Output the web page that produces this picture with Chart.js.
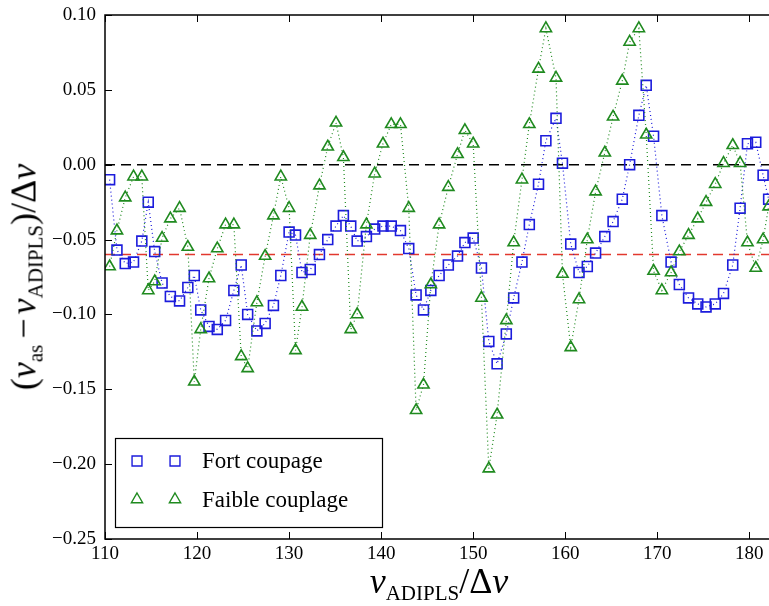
<!DOCTYPE html>
<html>
<head>
<meta charset="utf-8">
<script src="https://cdn.jsdelivr.net/npm/chart.js@4.4.0/dist/chart.umd.min.js"></script>
<style>
  body { margin: 0; background: #fff; }
  #wrap { position: relative; width: 769px; height: 606px; overflow: hidden; }
  .axis-title { position: absolute; font-family: "Liberation Serif", serif; font-size: 36px; color: #000; white-space: nowrap; line-height: 1; }
  .axis-title i { font-style: italic; }
  .axis-title sub { font-size: 21px; vertical-align: -7px; }
  .axis-title .op { margin: 0 4px 0 6px; }
  #ytitle { left: 26px; top: 277px; transform: translate(-50%, -50%) rotate(-90deg); }
  #xtitle { left: 439px; top: 583px; transform: translate(-50%, -50%); }
</style>
</head>
<body>
<div id="wrap">
  <canvas id="chart" width="769" height="606"></canvas>
  <div class="axis-title" id="ytitle">(<i>ν</i><sub>as</sub><span class="op">−</span><i>ν</i><sub>ADIPLS</sub>)/Δ<i>ν</i></div>
  <div class="axis-title" id="xtitle"><i>ν</i><sub>ADIPLS</sub>/Δ<i>ν</i></div>
</div>
<script>
// --- DATA ---
const xs = [110.5, 111.3, 112.2, 113.1, 114.0, 114.7, 115.4, 116.2, 117.1, 118.1,
  119.0, 119.7, 120.4, 121.3, 122.2, 123.1, 124.0, 124.8, 125.5, 126.5,
  127.4, 128.3, 129.1, 130.0, 130.7, 131.4, 132.3, 133.3, 134.2, 135.1,
  135.9, 136.7, 137.4, 138.4, 139.3, 140.2, 141.1, 142.1, 143.0, 143.8,
  144.6, 145.4, 146.3, 147.3, 148.3, 149.1, 150.0, 150.9, 151.7, 152.6,
  153.6, 154.4, 155.3, 156.1, 157.1, 157.9, 159.0, 159.7, 160.6, 161.5,
  162.4, 163.3, 164.3, 165.2, 166.2, 167.0, 168.0, 168.8, 169.6, 170.5,
  171.5, 172.4, 173.4, 174.4, 175.3, 176.3, 177.2, 178.2, 179.0, 179.8,
  180.7, 181.5, 182.1];

const fortCouplage = [-0.010, -0.057, -0.066, -0.065, -0.051, -0.025, -0.058, -0.079, -0.088, -0.091,
  -0.082, -0.074, -0.097, -0.108, -0.110, -0.104, -0.084, -0.067, -0.100, -0.111,
  -0.106, -0.094, -0.074, -0.045, -0.047, -0.072, -0.070, -0.060, -0.050, -0.041,
  -0.034, -0.041, -0.051, -0.048, -0.043, -0.041, -0.041, -0.044, -0.056, -0.087,
  -0.097, -0.084, -0.074, -0.067, -0.061, -0.052, -0.049, -0.069, -0.118, -0.133,
  -0.113, -0.089, -0.065, -0.040, -0.013, 0.016, 0.031, 0.001, -0.053, -0.072,
  -0.068, -0.059, -0.048, -0.038, -0.023, 0.000, 0.033, 0.053, 0.019, -0.034,
  -0.065, -0.080, -0.089, -0.093, -0.095, -0.093, -0.086, -0.067, -0.029, 0.014,
  0.015, -0.007, -0.023];

const faibleCouplage = [-0.068, -0.044, -0.022, -0.008, -0.008, -0.084, -0.078, -0.049, -0.036, -0.029,
  -0.055, -0.145, -0.110, -0.076, -0.056, -0.040, -0.040, -0.128, -0.136, -0.092,
  -0.061, -0.034, -0.008, -0.029, -0.124, -0.095, -0.047, -0.014, 0.012, 0.028,
  0.005, -0.110, -0.100, -0.040, -0.006, 0.014, 0.027, 0.027, -0.029, -0.164,
  -0.147, -0.080, -0.040, -0.015, 0.007, 0.023, 0.014, -0.089, -0.203, -0.167,
  -0.104, -0.052, -0.010, 0.027, 0.064, 0.091, 0.058, -0.073, -0.122, -0.090,
  -0.050, -0.018, 0.008, 0.032, 0.056, 0.082, 0.091, 0.020, -0.071, -0.084,
  -0.072, -0.058, -0.047, -0.036, -0.025, -0.013, 0.001, 0.013, 0.001, -0.052,
  -0.069, -0.050, -0.028];

const xTicks = [110, 120, 130, 140, 150, 160, 170, 180];
const yTicks = [-0.25, -0.20, -0.15, -0.10, -0.05, 0.00, 0.05, 0.10];
const xMin = 110, xMax = 182.14;
const yMin = -0.25, yMax = 0.10;
const zeroLevel = 0.0;
const meanOffset = -0.06;

const BLUE = '#1c1cdc';
const GREEN = '#1f8a1f';
const FONT = '"Liberation Serif", "DejaVu Serif", serif';

const toPoints = ys => xs.map((x, i) => ({ x: x, y: ys[i] }));
const hline = y => [{ x: xMin, y: y }, { x: xMax, y: y }];

// --- PLUGINS ---
const framePlugin = {
    id: 'frame',
    afterDatasetsDraw(chart) {
        const { ctx, chartArea: a, scales } = chart;
        ctx.save();
        ctx.strokeStyle = '#000';
        ctx.lineWidth = 1.5;
        ctx.beginPath();
        ctx.moveTo(a.right + 2, a.top); ctx.lineTo(a.left, a.top);
        ctx.lineTo(a.left, a.bottom); ctx.lineTo(a.right + 2, a.bottom);
        ctx.stroke();
        ctx.lineWidth = 1;
        ctx.beginPath();
        xTicks.forEach(v => {
            const px = Math.round(scales.x.getPixelForValue(v)) + 0.5;
            ctx.moveTo(px, a.top); ctx.lineTo(px, a.top + 7);
            ctx.moveTo(px, a.bottom); ctx.lineTo(px, a.bottom - 7);
        });
        yTicks.forEach(v => {
            const py = Math.round(scales.y.getPixelForValue(v)) + 0.5;
            ctx.moveTo(a.left, py); ctx.lineTo(a.left + 7, py);
        });
        ctx.stroke();
        ctx.restore();
    }
};

const legendPlugin = {
    id: 'boxLegend',
    afterDraw(chart) {
        const { ctx } = chart;
        const box = { left: 115, top: 438, right: 382, bottom: 527 };
        ctx.save();
        ctx.fillStyle = '#fff';
        ctx.fillRect(box.left, box.top, box.right - box.left, box.bottom - box.top);
        ctx.strokeStyle = '#000';
        ctx.lineWidth = 1.2;
        ctx.strokeRect(box.left + 0.5, box.top + 0.5, box.right - box.left, box.bottom - box.top);
        const rows = [chart.data.datasets[0], chart.data.datasets[1]];
        rows.forEach((ds, i) => {
            const cy = 461 + i * 38.5;
            [137, 175].forEach(cx => {
                ctx.strokeStyle = ds.pointBorderColor;
                ctx.fillStyle = 'rgba(0,0,0,0)';
                ctx.lineWidth = 1.4;
                Chart.helpers.drawPoint(ctx, { pointStyle: ds.pointStyle, radius: ds.pointRadius, borderWidth: 1.4 }, cx, cy);
            });
            ctx.fillStyle = '#000';
            ctx.font = '23px ' + FONT;
            ctx.textBaseline = 'middle';
            ctx.fillText(ds.label, 202, cy + 1);
        });
        ctx.restore();
    }
};

// --- CHART ---
const ctx = document.getElementById('chart').getContext('2d');
new Chart(ctx, {
    type: 'scatter',
    data: {
        datasets: [
            {
                label: 'Fort coupage',
                data: toPoints(fortCouplage),
                showLine: true,
                borderColor: BLUE,
                borderWidth: 1.2,
                borderDash: [1, 3],
                pointStyle: 'rect',
                pointRadius: 7,
                pointBorderColor: BLUE,
                pointBackgroundColor: 'rgba(0,0,0,0)',
                pointBorderWidth: 1.6,
                order: 2
            },
            {
                label: 'Faible couplage',
                data: toPoints(faibleCouplage),
                showLine: true,
                borderColor: GREEN,
                borderWidth: 1.2,
                borderDash: [1, 3],
                pointStyle: 'triangle',
                pointRadius: 6.5,
                pointBorderColor: GREEN,
                pointBackgroundColor: 'rgba(0,0,0,0)',
                pointBorderWidth: 1.6,
                order: 1
            },
            {
                data: hline(zeroLevel),
                showLine: true,
                borderColor: '#000',
                borderWidth: 1.5,
                borderDash: [10, 6],
                pointRadius: 0,
                order: 3
            },
            {
                data: hline(meanOffset),
                showLine: true,
                borderColor: '#e2382e',
                borderWidth: 1.5,
                borderDash: [10, 6],
                pointRadius: 0,
                order: 3
            }
        ]
    },
    options: {
        responsive: false,
        animation: false,
        devicePixelRatio: 1,
        layout: { autoPadding: false, padding: { top: 15, right: 0, left: 0, bottom: 0 } },
        plugins: { legend: { display: false }, tooltip: { enabled: false } },
        scales: {
            x: {
                type: 'linear',
                min: xMin,
                max: xMax,
                grid: { display: false, drawTicks: false },
                border: { display: false },
                afterBuildTicks: s => { s.ticks = xTicks.map(v => ({ value: v })); },
                afterFit: s => { s.height = 67; s.paddingLeft = 0; s.paddingRight = 0; },
                ticks: { color: '#000', font: { family: FONT, size: 19 }, padding: 4, maxRotation: 0 }
            },
            y: {
                type: 'linear',
                min: yMin,
                max: yMax,
                grid: { display: false, drawTicks: false },
                border: { display: false },
                afterBuildTicks: s => { s.ticks = yTicks.map(v => ({ value: v })); },
                afterFit: s => { s.width = 105; s.paddingTop = 0; s.paddingBottom = 0; },
                ticks: {
                    color: '#000',
                    font: { family: FONT, size: 19 },
                    padding: 9,
                    callback: v => (v < 0 ? '\u2212' : '') + Math.abs(v).toFixed(2)
                }
            }
        }
    },
    plugins: [framePlugin, legendPlugin]
});
</script>
</body>
</html>
